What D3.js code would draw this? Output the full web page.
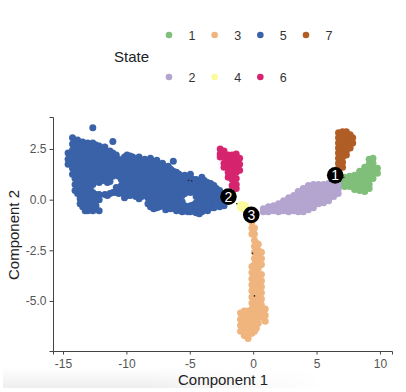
<!DOCTYPE html>
<html>
<head>
<meta charset="utf-8">
<script src="https://cdn.jsdelivr.net/npm/d3@7"></script>
<style>
  html, body { margin: 0; padding: 0; background: #fff; }
  svg { display: block; }
  text { font-family: "Liberation Sans", Arial, sans-serif; }
</style>
</head>
<body>
<div id="chart"></div>
<script>
// values, each row is [component 1, [component 2 values]]
const state1 = [[6.9,[1.0,.75]],[7.2,[1.1,.85,.65]],[7.6,[1.15,.9,.65]],[8.0,[1.2,.95,.7,.5]],
  [8.4,[1.4,1.15,.9,.65,.45]],[8.8,[1.6,1.35,1.1,.85,.6,.4]],[9.15,[2.0,1.75,1.5,1.25,1,.75,.55]],
  [9.45,[2.05,1.8,1.55,1.3,1.05]],[9.8,[1.55,1.3]]];
const state2 = [[.8,[-.45,-.6]],[1.2,[-.35,-.6]],[1.6,[-.3,-.55]],[2.0,[-.2,-.45,-.6]],[2.4,[-.05,-.3,-.55]],
  [2.8,[.1,-.15,-.4,-.6]],[3.2,[.2,-.05,-.3,-.55]],[3.55,[.4,.15,-.1,-.35,-.6]],[3.95,[.55,.3,.05,-.2,-.45,-.6]],
  [4.35,[.7,.45,.2,-.05,-.3,-.5]],[4.75,[.75,.5,.25,0,-.25,-.4]],[5.15,[.75,.5,.25,0,-.2]],[5.55,[.75,.5,.25,0,-.15]],
  [5.95,[.8,.55,.3,.05,-.05]],[6.35,[.85,.6,.35,.15]],[6.7,[.75,.5,.3]]];
const state3 = [[-1.0,[-5.6,-5.9,-6.2,-6.5]],[-.7,[-5.5,-5.8,-6.1,-6.4,-6.7]],[-.4,[-5.5,-5.8,-6.1,-6.4,-6.7,-6.85]],
  [-.1,[-1.1,-1.4,-1.7,-3.3,-3.6,-3.9,-4.2,-4.5,-4.8,-5.1,-5.4,-5.7,-6,-6.3,-6.6]],
  [.1,[-1.4,-1.7,-2,-2.3,-2.6,-2.9,-3.2,-3.5,-3.8,-4.1,-4.4,-4.7,-5,-5.3,-5.6,-5.9,-6.2,-6.5]],
  [.25,[-2.15,-2.45,-2.75,-3.05,-3.35,-3.65,-3.95,-4.25,-4.55,-4.85,-5.15,-5.45,-5.75,-6.05,-6.35]],
  [.4,[-2.2,-2.5,-2.8,-3.1,-3.4,-3.7,-4,-4.3,-4.6,-4.9,-5.2,-5.5,-5.8,-6.1]],
  [.65,[-2.6,-2.9,-3.2,-3.7,-4,-4.3,-4.6,-4.9,-5.2,-5.5,-5.8]],[.95,[-5.4,-5.7,-6.0]]];
const state4 = [[-1.0,[-.25,-.4]],[-.8,[-.25,-.45]],[-.6,[-.3,-.45]]];
const state5 = [[-14.6,[2.3,2.0,1.75]],[-14.25,[3.05,2.75,2.45,2.15,1.85,1.55,1.25]],
  [-14.05,[2.9,2.6,2.3,2,1.7,1.4,1.05,.75,.45]],
  [-13.85,[2.95,2.7,2.4,2.1,1.8,1.5,1.2,.9,.55,.3]],
  [-13.65,[2.75,2.45,2.15,1.85,1.55,1.25,.95,.65,.35,.05,-.2]],
  [-13.45,[2.85,2.6,2.3,2,1.7,1.4,1.1,.8,.5,.2,-.1,-.35]],
  [-13.25,[2.65,2.35,2.05,1.75,1.45,1.15,.85,.55,.25,-.05,-.35,-.55]],
  [-13.05,[2.8,2.5,2.2,1.9,1.6,1.3,1,.7,.4,.1,-.2,-.55]],
  [-12.85,[2.65,2.35,2.05,1.75,1.45,1.15,.85,.55,.2,-.1,-.4]],
  [-12.65,[3.55,2.8,2.5,2.2,1.9,1.6,1.3,1,.75,.35,.05,-.25,-.55]],
  [-12.4,[2.7,2.4,2.1,1.8,1.5,1.2,.9,.25,-.05,-.3]],
  [-12.15,[2.65,2.35,2.05,1.75,1.45,1.15,.85,.25,0,-.55]],
  [-11.95,[2.45,2.15,1.85,1.55,1.25,.95]],
  [-11.7,[2.6,2.4,2.1,1.8,1.5,1.2,.95,.25]],
  [-11.5,[2.3,2,1.7,1.4,1.1,.85,.2]],
  [-11.3,[2.4,2.1,1.8,1.5,1.2,.9,.3]],
  [-11.07,[2.87,2.3,2,1.7,1.4,1.15,.35]],
  [-10.8,[2.2,1.9,1.6,1.3,.6,.35]],
  [-10.6,[2,1.7,1.4,1.15,.55,.3]],
  [-10.4,[1.9,1.6,1.3,1,.7,.35]],
  [-10.15,[2.1,1.8,1.5,1.2,.9,.6,.3,.1]],
  [-9.95,[2.2,1.9,1.6,1.3,1,.7,.4,.2]],
  [-9.7,[2.15,1.95,1.65,1.35,1.05,.75,.45,.2]],
  [-9.5,[2.1,1.8,1.5,1.2,.9,.6,.3]],
  [-9.25,[2,1.7,1.35,1.05,.75,.45,.15]],
  [-9.0,[2.1,1.8,1.5,1.2,.9,.6,.3,.05]],
  [-8.8,[1.95,1.65,1.35,1.05,.75,.45,.15]],
  [-8.55,[2,1.7,1.4,1.1,.8,.5,.2]],
  [-8.3,[1.9,1.6,1.3,1,.7,.4,.1,-.2]],
  [-8.1,[2.05,1.75,1.45,1.15,.85,.55,.25,-.05,-.35]],
  [-7.85,[1.85,1.55,1.25,.95,.65,.35,.05,-.25,-.45]],
  [-7.6,[1.95,1.65,1.35,1.05,.75,.45,.15,-.15,-.4]],
  [-7.4,[1.75,1.45,1.15,.85,.55,.25,-.05,-.35]],
  [-7.15,[1.8,1.5,1.2,.9,.6,.3,0,-.3]],
  [-6.9,[1.55,1.25,.95,.65,.35,.05,-.25,-.5]],
  [-6.7,[1.65,1.35,1.05,.75,.45,.15,-.15,-.4]],
  [-6.5,[1.5,1.2,.9,.6,.3,0,-.25,-.45]],
  [-6.3,[1.9,1.4,1.1,.8,.5,.2,-.1,-.35]],
  [-6.05,[1.35,1.05,.75,.45,.15,-.15,-.4,-.55]],
  [-5.85,[1.25,.95,.65,.35,.05,-.25,-.5]],
  [-5.6,[1.1,.8,.5,.2,-.1,-.4,-.6]],
  [-5.4,[1.2,.9,.6,.3,-.3,-.55]],
  [-5.15,[1.05,.75,.45,-.35,-.6]],
  [-4.95,[1.25,.95,.6,.35,-.3,-.6]],
  [-4.7,[1,.7,.4,-.25,-.55]],
  [-4.5,[1,.75,.45,.15,-.15,-.45,-.65]],
  [-4.25,[.9,.65,.35,.05,-.25,-.5,-.7]],
  [-4.05,[1.1,.85,.55,.25,-.05,-.35,-.6]],
  [-3.85,[.95,.7,.4,.1,-.2,-.45]],
  [-3.6,[.85,.55,.25,-.05,-.35,-.55]],
  [-3.35,[.8,.5,.2,-.1,-.4]],
  [-3.1,[.7,.4,.1,-.2,-.4]],
  [-2.9,[.55,.25,-.05,-.3]],
  [-2.65,[.45,.15,-.15,-.35]],[-2.3,[.25,-.05,-.3]]];
const state6 = [[-2.6,[2.5,2.25,2.1]],[-2.3,[2.4,2.1,1.8,1.6]],[-1.97,[2.2,1.95,1.65,1.35,1.1]],
  [-1.66,[2.2,1.9,1.6,1.3,1,.7]],[-1.34,[2.25,1.95,1.65,1.35,1.05,.75,.55]],[-1.07,[2.05,1.75,1.45]]];
const state7 = [[6.73,[3.3,3.05,2.8,2.55,2.3,2.05,1.8,1.55]],[7.05,[3.35,3.1,2.85,2.6,2.35,2.1,1.85,1.6]],
  [7.35,[3.35,3.1,2.85,2.6,2.4,2.2]],[7.65,[3.2,3,2.8,2.55]],[7.85,[3.05,2.8]]];

const stateNames = ['1', '2', '3', '4', '5', '6', '7'];
const stateColors = ['#80bf7a', '#b3a5cf', '#f0b57e', '#fbfb9b', '#3a62a8', '#d6246f', '#b05e26'];
const stateRows = [state1, state2, state3, state4, state5, state6, state7];

// branch points and the little bits of trajectory that show through
const branchX = [6.47, -1.95, -0.15];
const branchY = [1.2, 0.15, -0.75];
const branchLabels = ['1', '2', '3'];
const trajX = [-5.1, -4.85, -1.29, 7.15, -0.05, 0.1];
const trajY = [0.95, 0.93, -0.2, 1.1, -2.65, -4.75];

const xTicks = [-15, -10, -5, 0, 5, 10];
const yTicks = [2.5, 0, -2.5, -5];

const svg = d3.select('#chart').append('svg').attr('width', 406).attr('height', 392);

// The screenshot has a faint grey smear along the bottom edge
const defs = svg.append('defs');
const smear = defs.append('linearGradient').attr('id', 'smear')
    .attr('x1', '0%').attr('y1', '0%').attr('x2', '0%').attr('y2', '100%');
smear.append('stop').attr('offset', '0%').attr('stop-color', '#fff');
smear.append('stop').attr('offset', '100%').attr('stop-color', '#eeeeee');
const fade = defs.append('linearGradient').attr('id', 'smear-fade');
fade.append('stop').attr('offset', '35%').attr('stop-color', '#fff');
fade.append('stop').attr('offset', '80%').attr('stop-color', '#000');
defs.append('mask').attr('id', 'smear-mask').attr('maskContentUnits', 'objectBoundingBox')
    .append('rect').attr('width', 1).attr('height', 1).attr('fill', 'url(#smear-fade)');
svg.append('rect').attr('x', 3).attr('y', 367).attr('width', 403).attr('height', 21)
    .attr('fill', 'url(#smear)').attr('mask', 'url(#smear-mask)');

const x = d3.scaleLinear().domain([-15.79, 10.95]).range([53, 392]);
const y = d3.scaleLinear().domain([4.08, -7.47]).range([117, 351]);

// Points
stateRows.forEach((rows, i) => {
    const pts = rows.flatMap(([px, ys]) => ys.map(py => [px, py]));
    svg.append('g').selectAll('circle').data(pts).join('circle')
        .attr('cx', d => x(d[0]))
        .attr('cy', d => y(d[1]))
        .attr('r', 3.5)
        .attr('fill', stateColors[i]);
});

svg.append('g').selectAll('circle').data(trajX).join('circle')
    .attr('cx', d => x(d))
    .attr('cy', (d, i) => y(trajY[i]))
    .attr('r', 0.8)
    .attr('fill', '#222');

// Axes, tick labels use a plain hyphen like the original
const xAxis = svg.append('g')
    .attr('transform', 'translate(0,351)')
    .call(d3.axisBottom(x).tickValues(xTicks).tickSize(3.5).tickPadding(5).tickFormat(d => String(d)));
const yAxis = svg.append('g')
    .attr('transform', 'translate(53,0)')
    .call(d3.axisLeft(y).tickValues(yTicks).tickSize(3.5).tickPadding(3).tickFormat(d => d.toFixed(1)));

[xAxis, yAxis].forEach(a => {
    a.selectAll('.domain').attr('stroke', '#444').attr('stroke-width', 1);
    a.selectAll('.tick line').attr('stroke', '#444');
    a.selectAll('.tick text').attr('fill', '#555').style('font-size', '12px')
        .style('font-family', '"Liberation Sans", Arial, sans-serif');
});

// Branch nodes
const nodes = svg.append('g').selectAll('g').data(branchLabels).join('g')
    .attr('transform', (d, i) => `translate(${x(branchX[i])},${y(branchY[i])})`);
nodes.append('circle').attr('r', 8.3).attr('fill', '#000');
nodes.append('text')
    .attr('text-anchor', 'middle')
    .attr('dy', '0.36em')
    .attr('fill', '#fff')
    .style('font-size', '14px')
    .text(d => d);

// Axis titles
svg.append('text').attr('x', 223).attr('y', 385).attr('text-anchor', 'middle')
    .attr('fill', '#222').style('font-size', '15px').text('Component 1');
svg.append('text').attr('transform', 'translate(19,235) rotate(-90)').attr('text-anchor', 'middle')
    .attr('fill', '#222').style('font-size', '15px').text('Component 2');

// Legend, two rows filled column by column
svg.append('text').attr('x', 114).attr('y', 62).attr('fill', '#222').style('font-size', '15px').text('State');
const legendX = d3.scalePoint().domain(['a', 'b', 'c', 'd']).range([169, 306]);
const legend = svg.append('g').selectAll('g').data(stateNames).join('g')
    .attr('transform', (d, i) => `translate(${legendX('abcd'[Math.floor(i / 2)])},${i % 2 ? 77 : 35})`);
legend.append('circle').attr('r', 3.3).attr('fill', (d, i) => stateColors[i]);
legend.append('text').attr('x', 23).attr('dy', '0.36em').attr('text-anchor', 'middle')
    .attr('fill', '#333').style('font-size', '12.5px').text(d => d);
</script>
</body>
</html>
